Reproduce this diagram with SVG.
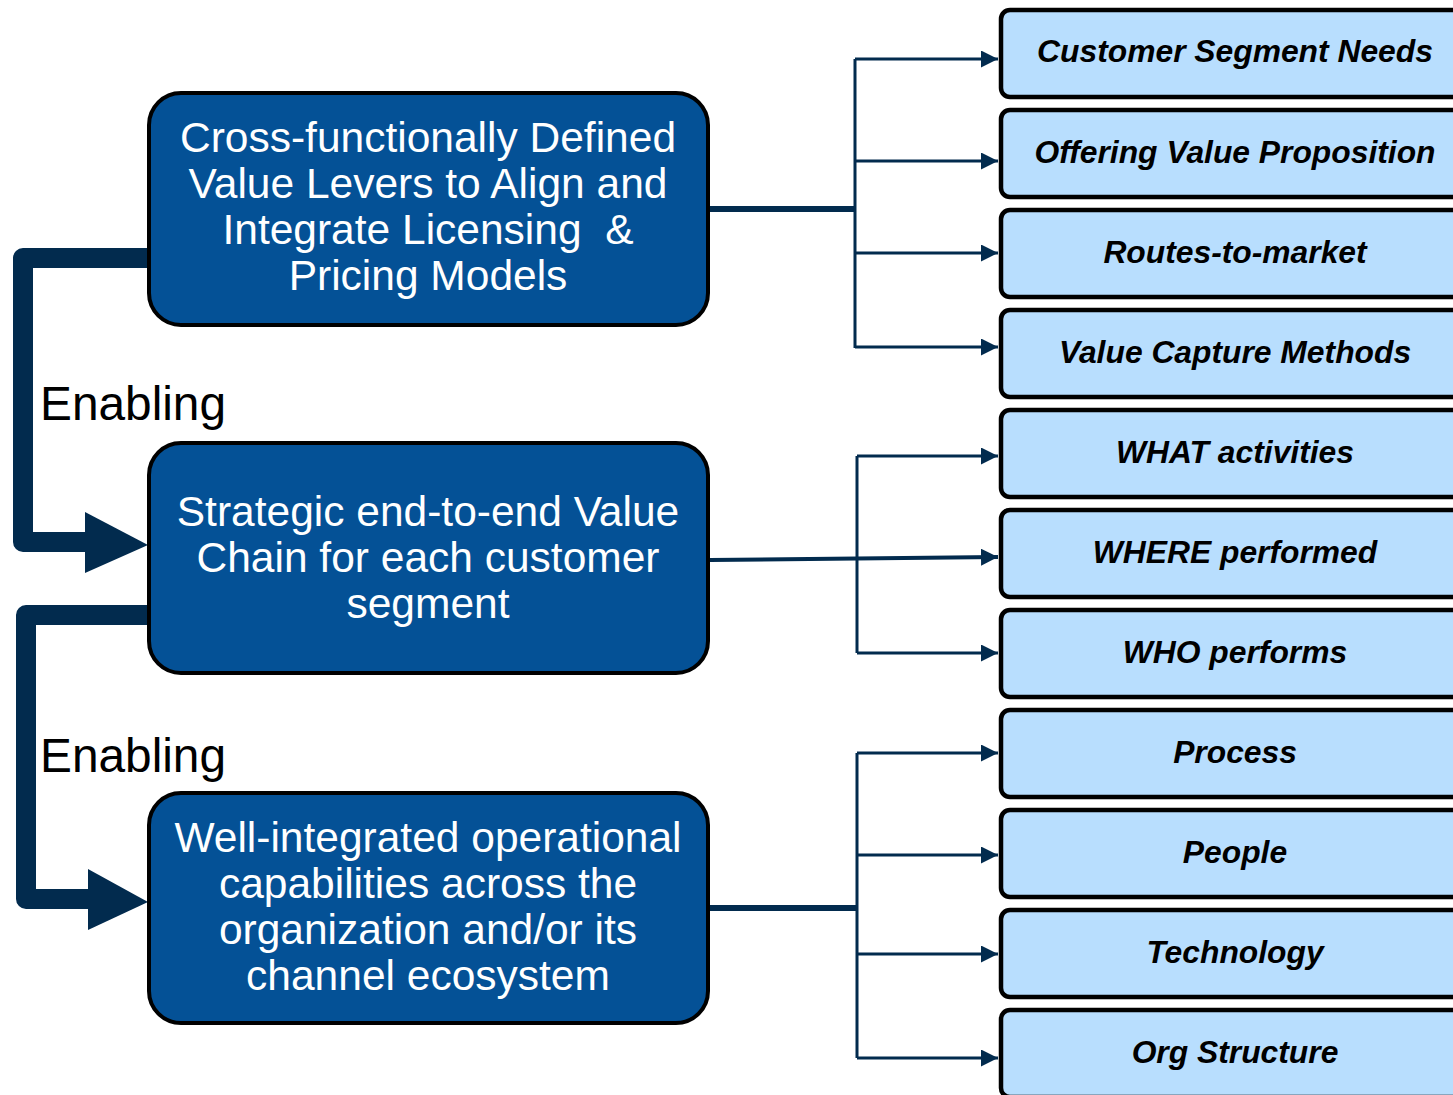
<svg xmlns="http://www.w3.org/2000/svg" width="1453" height="1095" viewBox="0 0 1453 1095">
<defs>
<style>
.main{fill:#045196;stroke:#000;stroke-width:4}
.sub{fill:#B8DEFE;stroke:#000;stroke-width:4.5}
.mt{fill:#fff;font-family:"Liberation Sans",Arial,sans-serif;font-size:42.5px;text-anchor:middle}
.st{fill:#000;font-family:"Liberation Sans",Arial,sans-serif;font-size:31.8px;font-weight:bold;font-style:italic;text-anchor:middle}
.en{fill:#000;font-family:"Liberation Sans",Arial,sans-serif;font-size:47.8px}
.c{fill:none;stroke:#022B4E;stroke-width:3}
.ct{fill:none;stroke:#022B4E;stroke-width:6}
.big{fill:none;stroke:#022B4E;stroke-width:20;stroke-linejoin:round}
</style>
<marker id="ah" viewBox="0 0 10 10" refX="10" refY="5" markerWidth="17" markerHeight="17" orient="auto" markerUnits="userSpaceOnUse">
<path d="M0,0 L10,5 L0,10 z" fill="#022B4E"/>
</marker>
</defs>
<rect width="1453" height="1095" fill="#fff"/>
<g id="connectors">
<path class="big" d="M150,258 H23 V542 H92"/>
<polygon points="85,512 148,545 85,573" fill="#022B4E"/>
<path class="big" d="M150,615 H26 V899 H95"/>
<polygon points="88,869 148,902 88,930" fill="#022B4E"/>
<path class="ct" d="M708,209 H855"/>
<path class="c" d="M855,59 V348"/>
<path class="c" d="M855,59 H998" marker-end="url(#ah)"/>
<path class="c" d="M855,161 H998" marker-end="url(#ah)"/>
<path class="c" d="M855,253 H998" marker-end="url(#ah)"/>
<path class="c" d="M855,347 H998" marker-end="url(#ah)"/>
<path class="c" style="stroke-width:4" d="M710,560 L998,557" marker-end="url(#ah)"/>
<path class="c" d="M857,456 V653"/>
<path class="c" d="M857,456 H998" marker-end="url(#ah)"/>
<path class="c" d="M857,653 H998" marker-end="url(#ah)"/>
<path class="ct" d="M710,908 H857"/>
<path class="c" d="M857,753 V1058"/>
<path class="c" d="M857,753 H998" marker-end="url(#ah)"/>
<path class="c" d="M857,855 H998" marker-end="url(#ah)"/>
<path class="c" d="M857,954 H998" marker-end="url(#ah)"/>
<path class="c" d="M857,1058 H998" marker-end="url(#ah)"/>
</g>
<g id="label-enabling-1"><text class="en" x="40" y="420">Enabling</text></g>
<g id="label-enabling-2"><text class="en" x="40" y="772">Enabling</text></g>
<g id="node-value-levers">
<rect class="main" x="149" y="93" width="559" height="232" rx="32"/>
<text class="mt" x="428" y="152">Cross-functionally Defined</text>
<text class="mt" x="428" y="198">Value Levers to Align and</text>
<text class="mt" x="428" y="244">Integrate Licensing &#160;&amp;</text>
<text class="mt" x="428" y="290">Pricing Models</text>
</g>
<g id="node-value-chain">
<rect class="main" x="149" y="443" width="559" height="230" rx="32"/>
<text class="mt" x="428" y="526">Strategic end-to-end Value</text>
<text class="mt" x="428" y="572">Chain for each customer</text>
<text class="mt" x="428" y="618">segment</text>
</g>
<g id="node-capabilities">
<rect class="main" x="149" y="793" width="559" height="230" rx="32"/>
<text class="mt" x="428" y="852">Well-integrated operational</text>
<text class="mt" x="428" y="898">capabilities across the</text>
<text class="mt" x="428" y="944">organization and/or its</text>
<text class="mt" x="428" y="990">channel ecosystem</text>
</g>
<g id="node-customer-segment-needs"><rect class="sub" x="1001" y="10" width="470" height="87" rx="9"/><text class="st" x="1235" y="62">Customer Segment Needs</text></g>
<g id="node-offering-value-proposition"><rect class="sub" x="1001" y="110" width="470" height="87" rx="9"/><text class="st" x="1235" y="163">Offering Value Proposition</text></g>
<g id="node-routes-to-market"><rect class="sub" x="1001" y="210" width="470" height="87" rx="9"/><text class="st" x="1235" y="263">Routes-to-market</text></g>
<g id="node-value-capture-methods"><rect class="sub" x="1001" y="310" width="470" height="87" rx="9"/><text class="st" x="1235" y="363">Value Capture Methods</text></g>
<g id="node-what-activities"><rect class="sub" x="1001" y="410" width="470" height="87" rx="9"/><text class="st" x="1235" y="463">WHAT activities</text></g>
<g id="node-where-performed"><rect class="sub" x="1001" y="510" width="470" height="87" rx="9"/><text class="st" x="1235" y="563">WHERE performed</text></g>
<g id="node-who-performs"><rect class="sub" x="1001" y="610" width="470" height="87" rx="9"/><text class="st" x="1235" y="663">WHO performs</text></g>
<g id="node-process"><rect class="sub" x="1001" y="710" width="470" height="87" rx="9"/><text class="st" x="1235" y="763">Process</text></g>
<g id="node-people"><rect class="sub" x="1001" y="810" width="470" height="87" rx="9"/><text class="st" x="1235" y="863">People</text></g>
<g id="node-technology"><rect class="sub" x="1001" y="910" width="470" height="87" rx="9"/><text class="st" x="1235" y="963">Technology</text></g>
<g id="node-org-structure"><rect class="sub" x="1001" y="1010" width="470" height="87" rx="9"/><text class="st" x="1235" y="1063">Org Structure</text></g>
</svg>
